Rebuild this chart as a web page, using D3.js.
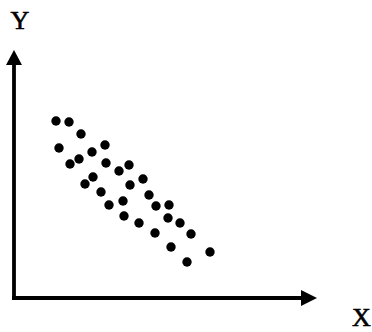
<!DOCTYPE html>
<html>
<head>
<meta charset="utf-8">
<script src="https://cdn.jsdelivr.net/npm/d3@7"></script>
<style>
html,body{margin:0;padding:0;background:#fff;}
svg{display:block;}
</style>
</head>
<body>
<svg id="chart" width="372" height="332"></svg>
<script>
const xValues = [42,55,67,45,91,78,65,56,92,105,115,79,71,129,116,87,135,95,109,142,155,110,154,125,166,141,177,157,196,173];
const yValues = [177,176,164,150,153,146,139,134,135,127,133,121,114,119,113,106,103,93,97,92,93,82,80,75,75,65,64,51,46,36];
const axisLabels = ["X","Y"];

const svg = d3.select("#chart");
const x = d3.scaleLinear().domain([0,300]).range([14,314]);
const y = d3.scaleLinear().domain([0,250]).range([298,48]);

const pts = xValues.map((v,i)=>({x:v,y:yValues[i]}));

// axes lines
svg.append("line").attr("x1",x(0)-2).attr("y1",y(0)).attr("x2",x(289)).attr("y2",y(0))
  .attr("stroke","#000").attr("stroke-width",3.8);
svg.append("line").attr("x1",x(0)).attr("y1",y(0)+1.5).attr("x2",x(0)).attr("y2",y(235))
  .attr("stroke","#000").attr("stroke-width",3.8);
// arrowheads
svg.append("path").attr("d",`M${x(303)},${y(0)} L${x(287)},${y(0)-8} L${x(287)},${y(0)+8} Z`).attr("fill","#000");
svg.append("path").attr("d",`M${x(0)},${y(248)} L${x(0)-8},${y(233)} L${x(0)+8},${y(233)} Z`).attr("fill","#000");

svg.selectAll("circle.pt").data(pts).enter().append("circle")
  .attr("class","pt")
  .attr("cx",d=>x(d.x)).attr("cy",d=>y(d.y)).attr("r",4.7).attr("fill","#000");

svg.append("text").attr("x",352).attr("y",326).text(axisLabels[0])
  .attr("font-family","Liberation Serif, Times New Roman, serif").attr("font-size",26).attr("fill","#000")
  .attr("stroke","#000").attr("stroke-width",0.6);
svg.append("text").attr("x",20).attr("y",29).attr("text-anchor","middle").text(axisLabels[1])
  .attr("font-family","Liberation Serif, Times New Roman, serif").attr("font-size",26).attr("fill","#000")
  .attr("stroke","#000").attr("stroke-width",0.6);
</script>
</body>
</html>
